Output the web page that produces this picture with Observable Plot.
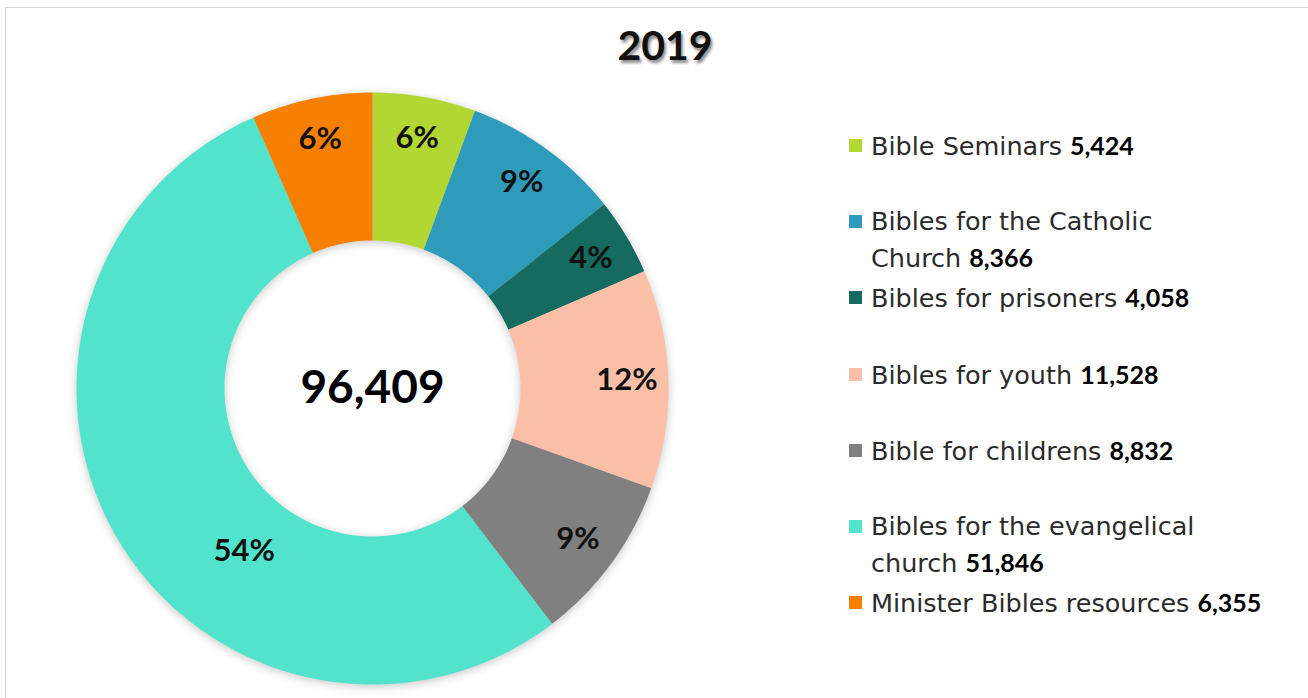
<!DOCTYPE html>
<html>
<head>
<meta charset="utf-8">
<script src="https://cdn.jsdelivr.net/npm/d3@7"></script>
<script src="https://cdn.jsdelivr.net/npm/@observablehq/plot@0.6"></script>
<style>
  html, body { margin: 0; padding: 0; background: #fff; }
  body { width: 1308px; height: 698px; position: relative; overflow: hidden; font-family: Lato, "DejaVu Sans", sans-serif; }
  #frame { position: absolute; left: 5px; top: 7px; width: 1320px; height: 720px; border: 1px solid #d4d4d4; }
  #title { position: absolute; left: 0; width: 1330px; top: 20px; text-align: center; font: 700 41px Lato, sans-serif; color: #111; text-shadow: 2px 3px 3px rgba(0,0,0,0.45); }
  #chart { position: absolute; left: 0; top: 0; }
  #chart svg g[aria-label="line"] { filter: drop-shadow(0px 2px 5px rgba(0,0,0,0.22)); }
  #legend { position: absolute; left: 849px; top: 127px; }
  .item { height: 76.2px; display: flex; align-items: flex-start; }
  .sw { width: 13px; height: 13px; margin-top: 12px; margin-right: 9px; flex: none; }
  .lab { font: 400 25.5px/36px "DejaVu Sans", sans-serif; color: #2b2b2b; }
  .ln { white-space: nowrap; height: 36px; }
  .lab b { font: 700 25px/36px Lato, sans-serif; color: #000; margin-left: 8px; }
</style>
</head>
<body>
<div id="frame"></div>
<div id="chart"></div>
<div id="title"></div>
<div id="legend"></div>
<script>
// ---- data ----
const title = "2019";
const categories = [
  "Bible Seminars",
  "Bibles for the Catholic Church",
  "Bibles for prisoners",
  "Bibles for youth",
  "Bible for childrens",
  "Bibles for the evangelical church",
  "Minister Bibles resources"
];
// legend text as printed (line breaks as in the original legend)
const legendLines = [
  ["Bible Seminars"],
  ["Bibles for the Catholic", "Church"],
  ["Bibles for prisoners"],
  ["Bibles for youth"],
  ["Bible for childrens"],
  ["Bibles for the evangelical", "church"],
  ["Minister Bibles resources"]
];
const values = [5424, 8366, 4058, 11528, 8832, 51846, 6355];
const percentLabels = ["6%", "9%", "4%", "12%", "9%", "54%", "6%"];
const totalLabel = "96,409";
const colors = ["#b3d732", "#2f9bbb", "#156b5f", "#fbbfa7", "#808080", "#52e3cd", "#f88000"];

// ---- geometry (derived from values) ----
const R = 296, cx = 372, cy = 388, W = 1308, H = 698;
const inner = 0.5;
const pie = d3.pie().sort(null).value(d => d.value).startAngle(0).endAngle(2 * Math.PI);
const arcs = pie(categories.map((c, i) => ({cat: c, value: values[i], label: percentLabels[i]})));

const ring = [];
for (const a of arcs) {
  const span = a.endAngle - a.startAngle;
  const n = Math.max(2, Math.ceil(span / (Math.PI / 180)));
  for (let k = 0; k <= n; k++) {
    const t = a.startAngle + span * k / n;
    ring.push({cat: a.data.cat, x: Math.sin(t), y: Math.cos(t)});
  }
  for (let k = n; k >= 0; k--) {
    const t = a.startAngle + span * k / n;
    ring.push({cat: a.data.cat, x: inner * Math.sin(t), y: inner * Math.cos(t)});
  }
}

const labels = arcs.map(a => {
  let t = (a.startAngle + a.endAngle) / 2, r = 0.86;
  // the dominant slice's label sits lower-left, closer to the ring middle
  if (a.endAngle - a.startAngle > Math.PI) { t -= 0.37; r = 0.70; }
  return {label: a.data.label, x: r * Math.sin(t), y: r * Math.cos(t)};
});

const chart = Plot.plot({
  width: W, height: H,
  margin: 0,
  x: {domain: [-cx / R, (W - cx) / R], axis: null},
  y: {domain: [-(H - cy) / R, cy / R], axis: null},
  color: {domain: categories, range: colors},
  style: {background: "transparent", overflow: "visible"},
  marks: [
    Plot.line(ring, {x: "x", y: "y", z: "cat", fill: "cat", stroke: null, curve: "linear"}),
    Plot.text(labels, {x: "x", y: "y", text: "label", fontSize: 31, fontWeight: 700, fill: "#111", fontFamily: "Lato, sans-serif"}),
    Plot.text([totalLabel], {x: () => 0, y: () => 0, text: d => d, fontSize: 46, fontWeight: 700, fill: "#000", fontFamily: "Lato, sans-serif"})
  ]
});
document.getElementById("chart").append(chart);
document.getElementById("title").textContent = title;

// ---- legend ----
const legend = d3.select("#legend");
categories.forEach((c, i) => {
  const row = legend.append("div").attr("class", "item");
  row.append("div").attr("class", "sw").style("background", colors[i]);
  const lab = row.append("div").attr("class", "lab");
  const lines = legendLines[i];
  lines.forEach((t, j) => {
    const ln = lab.append("div").attr("class", "ln");
    ln.append("span").text(t);
    if (j === lines.length - 1) ln.append("b").text(d3.format(",")(values[i]));
  });
});
</script>
</body>
</html>
